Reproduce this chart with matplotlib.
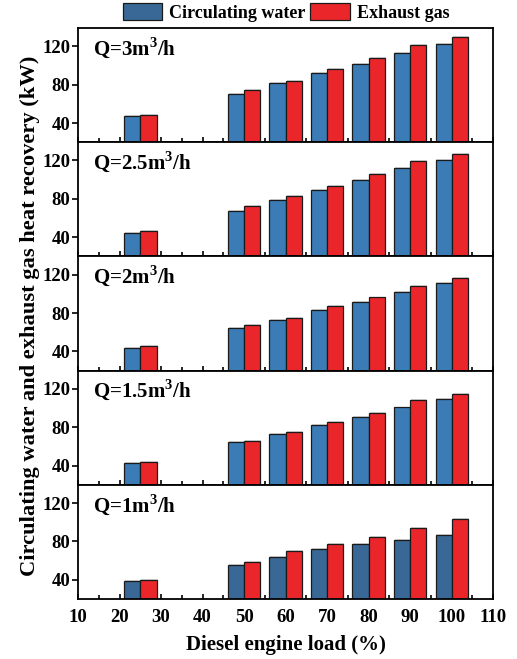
import matplotlib
matplotlib.use("Agg")
import matplotlib.pyplot as plt
import matplotlib.patheffects as pe
from matplotlib.patches import Patch
from matplotlib.ticker import MultipleLocator
import numpy as np

plt.rcParams["font.family"] = "serif"
plt.rcParams["font.serif"] = ["Liberation Serif", "DejaVu Serif"]
plt.rcParams["font.weight"] = "bold"
plt.rcParams["mathtext.fontset"] = "custom"
plt.rcParams["mathtext.rm"] = "Liberation Serif:bold"
plt.rcParams["mathtext.bf"] = "Liberation Serif:bold"

LOADS = [25, 50, 60, 70, 80, 90, 100]
FLOW_RATES = ["3", "2.5", "2", "1.5", "1"]

# heat recovery (kW), one row per flow rate, top to bottom
WATER = [
    [47.7, 70.0, 81.4, 91.8, 101.6, 113.1, 122.8],
    [44.6, 67.8, 78.3, 88.8, 100.0, 112.3, 120.4],
    [43.2, 64.5, 73.2, 83.3, 91.3, 101.8, 111.6],
    [42.4, 64.2, 72.9, 82.3, 90.2, 100.6, 109.6],
    [38.6, 55.6, 63.6, 72.3, 77.5, 82.0, 87.2],
]
EXHAUST = [
    [48.4, 74.8, 84.2, 96.4, 107.5, 121.4, 130.0],
    [46.7, 73.0, 82.5, 93.7, 105.7, 119.4, 127.0],
    [45.6, 68.0, 75.0, 87.1, 96.2, 108.1, 116.1],
    [44.2, 66.0, 75.3, 85.0, 94.4, 107.9, 114.8],
    [39.6, 58.4, 69.9, 77.2, 84.5, 94.2, 102.9],
]

BLUE = "#3b7cb6"
BLUE_DARK = "#3a6896"
RED = "#ea262b"
WIDTH = 3.9

fig, axes = plt.subplots(5, 1, figsize=(5.17, 6.59), dpi=100, sharex=True,
                         gridspec_kw={"hspace": 0})
fig.subplots_adjust(left=0.151, right=0.954, bottom=0.091, top=0.9575)

shadow = [pe.SimplePatchShadow(offset=(0.7, 0.7), shadow_rgbFace="#999999", alpha=0.4),
          pe.Normal()]

x = np.array(LOADS)
for i, ax in enumerate(axes):
    blue = BLUE_DARK if i == len(axes) - 1 else BLUE
    bw = ax.bar(x - WIDTH / 2, WATER[i], WIDTH, color=blue, edgecolor="#1a1a1a", linewidth=0.9)
    be = ax.bar(x + WIDTH / 2, EXHAUST[i], WIDTH, color=RED, edgecolor="#1a1a1a", linewidth=0.9)
    for b in list(bw) + list(be):
        b.set_path_effects(shadow)
    ax.set_xlim(10, 110)
    ax.set_ylim(20, 139)
    ax.set_yticks([40, 80, 120])
    ax.xaxis.set_major_locator(MultipleLocator(10))
    ax.xaxis.set_minor_locator(MultipleLocator(5))
    ax.tick_params(axis="x", which="major", direction="in", length=3.5, width=1.2,
                   labelsize=13.5, pad=7)
    ax.tick_params(axis="x", which="minor", direction="in", length=3, width=1.2)
    ax.tick_params(axis="y", direction="out", length=4, width=1.2, labelsize=13.5, pad=1.5)
    ax.set_axisbelow(True)
    for s in ax.spines.values():
        s.set_linewidth(1.3)
    ax.text(0.035, 0.83, f"Q={FLOW_RATES[i]}m$^{{3}}$/h", transform=ax.transAxes,
            fontsize=15, fontweight="bold", va="center", ha="left")

axes[-1].set_xlabel("Diesel engine load (%)", fontsize=15, fontweight="bold", labelpad=7)
fig.text(0.058, 0.521, "Circulating water and exhaust gas heat recovery (kW)",
         rotation=90, fontsize=16.2, fontweight="bold", ha="center", va="center")

handles = [Patch(facecolor=BLUE_DARK, edgecolor="#1a1a1a", linewidth=0.9),
           Patch(facecolor=RED, edgecolor="#1a1a1a", linewidth=0.9)]
fig.legend(handles, ["Circulating water", "Exhaust gas"], loc="center",
           bbox_to_anchor=(0.553, 0.981), ncol=2, frameon=False, fontsize=13,
           handlelength=2.2, handleheight=1.05, handletextpad=0.35, columnspacing=0.3,
           borderaxespad=0, borderpad=0)

fig.savefig("out.png", dpi=100)
